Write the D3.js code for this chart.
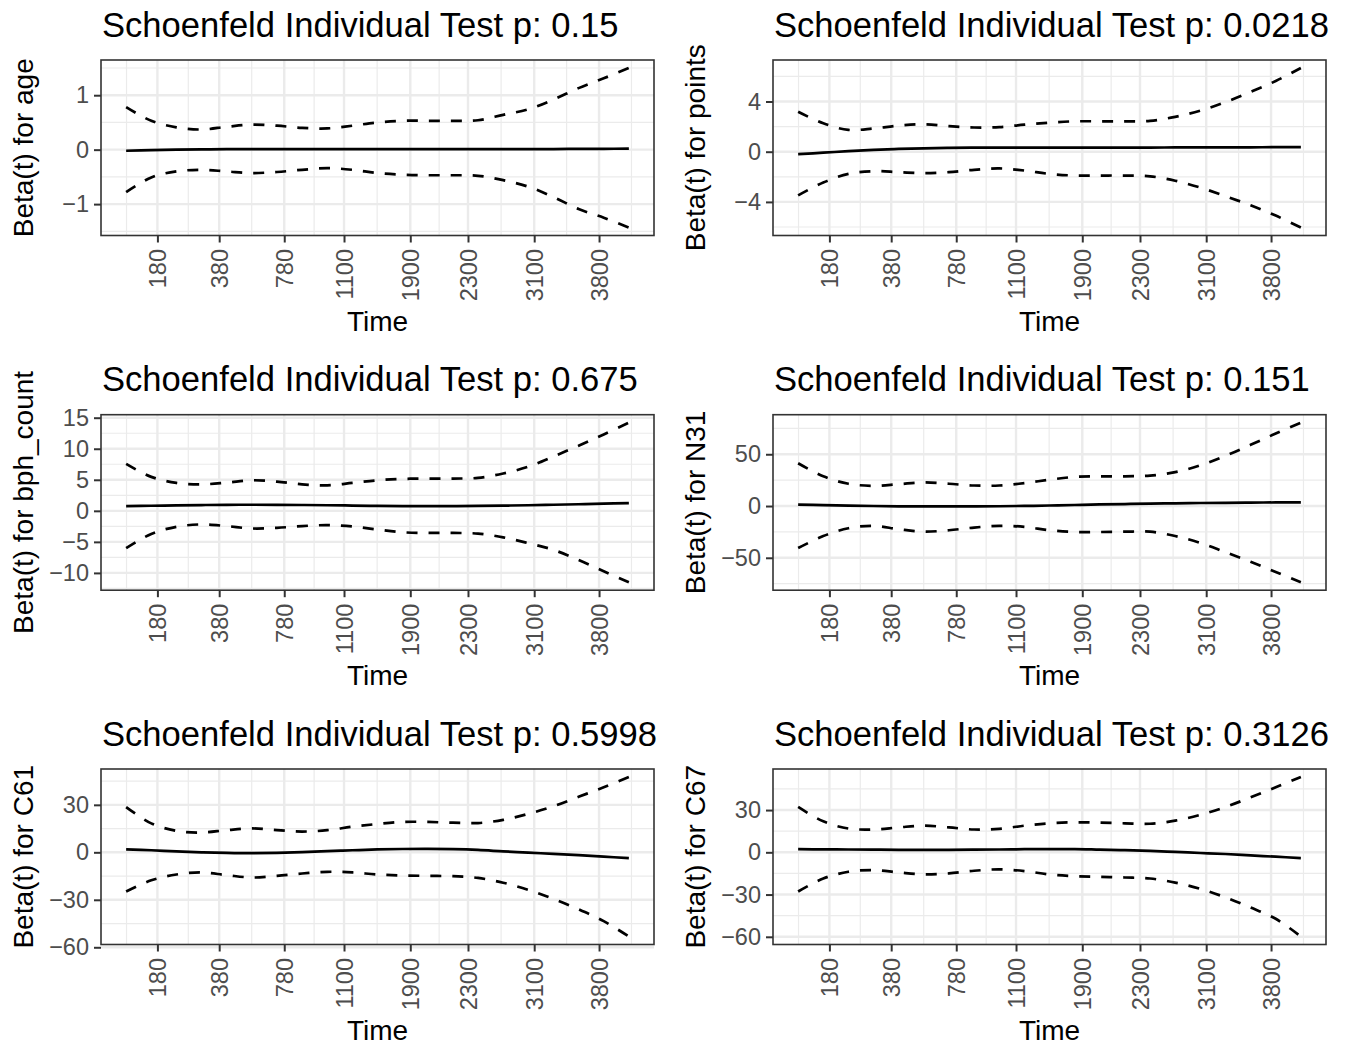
<!DOCTYPE html>
<html>
<head>
<meta charset="utf-8">
<script src="https://cdn.jsdelivr.net/npm/d3@7"></script>
<style>
  body { margin: 0; background: #ffffff; }
  text { font-family: "Liberation Sans", Arial, Helvetica, sans-serif; }
</style>
</head>
<body>
<svg id="chart" width="1349" height="1046"></svg>
<script>
// ---------------- DATA ----------------
// sample positions along the (transformed) time axis, 0 = first event, 1 = last event
const timeSamples = [0, 0.05, 0.1, 0.15, 0.2, 0.25, 0.3, 0.35, 0.4, 0.45, 0.5,
                     0.55, 0.6, 0.65, 0.7, 0.75, 0.8, 0.85, 0.9, 0.95, 1.0];

// x tick labels (time) and their position on the transformed time axis
const timeTickLabels = [180, 380, 780, 1100, 1900, 2300, 3100, 3800];
const timeTickPositions = [0.0622, 0.1851, 0.3145, 0.4334, 0.5652, 0.6800, 0.8117, 0.9407];

const variables = ["age", "points", "bph_count", "N31", "C61", "C67"];
const pValues = ["0.15", "0.0218", "0.675", "0.151", "0.5998", "0.3126"];

const yTicksAge = [-1, 0, 1];
const yTicksPoints = [-4, 0, 4];
const yTicksBph = [-10, -5, 0, 5, 10, 15];
const yTicksN31 = [-50, 0, 50];
const yTicksC61 = [-60, -30, 0, 30];
const yTicksC67 = [-60, -30, 0, 30];

const betaAge  = [-0.02, -0.01, 0, 0.005, 0.01, 0.01, 0.01, 0.01, 0.01, 0.01, 0.01, 0.01, 0.01, 0.01, 0.01, 0.01, 0.01, 0.01, 0.015, 0.015, 0.02];
const upperAge = [0.78, 0.53, 0.41, 0.37, 0.42, 0.46, 0.44, 0.40, 0.39, 0.44, 0.50, 0.53, 0.53, 0.53, 0.54, 0.64, 0.74, 0.92, 1.13, 1.31, 1.50];
const lowerAge = [-0.78, -0.51, -0.40, -0.37, -0.40, -0.43, -0.41, -0.37, -0.34, -0.37, -0.43, -0.46, -0.47, -0.47, -0.48, -0.56, -0.68, -0.87, -1.09, -1.25, -1.43];

const betaPoints  = [-0.19, -0.08, 0.05, 0.15, 0.22, 0.27, 0.30, 0.32, 0.33, 0.33, 0.33, 0.33, 0.33, 0.33, 0.33, 0.34, 0.34, 0.35, 0.35, 0.36, 0.37];
const upperPoints = [3.18, 2.26, 1.74, 1.85, 2.08, 2.18, 2.04, 1.93, 1.96, 2.15, 2.31, 2.42, 2.42, 2.42, 2.45, 2.78, 3.27, 3.95, 4.76, 5.63, 6.67];
const lowerPoints = [-3.48, -2.45, -1.77, -1.55, -1.63, -1.71, -1.63, -1.44, -1.33, -1.50, -1.77, -1.90, -1.90, -1.90, -1.96, -2.31, -2.86, -3.54, -4.27, -5.09, -6.04];

const betaBph  = [0.77, 0.82, 0.88, 0.93, 0.97, 0.98, 0.97, 0.94, 0.90, 0.85, 0.80, 0.77, 0.76, 0.77, 0.80, 0.84, 0.90, 0.98, 1.06, 1.15, 1.25];
const upperBph = [7.55, 5.47, 4.49, 4.27, 4.54, 4.92, 4.70, 4.27, 4.10, 4.49, 4.92, 5.14, 5.20, 5.20, 5.31, 6.02, 7.11, 8.75, 10.5, 12.3, 14.2];
const lowerBph = [-6.02, -3.72, -2.57, -2.19, -2.46, -2.84, -2.74, -2.46, -2.30, -2.52, -3.01, -3.45, -3.56, -3.56, -3.67, -4.27, -5.20, -6.29, -7.93, -9.74, -11.5];

const betaN31  = [1.3, 0.9, 0.4, 0.0, -0.3, -0.4, -0.4, -0.35, -0.2, 0.1, 0.5, 1.0, 1.5, 1.9, 2.3, 2.6, 2.9, 3.1, 3.3, 3.45, 3.6];
const upperN31 = [41.3, 28.7, 21.5, 19.5, 21.1, 22.8, 21.5, 19.8, 19.8, 22.1, 25.4, 28.1, 28.7, 28.7, 29.4, 32.7, 39.3, 48.5, 59.1, 70.0, 80.5];
const lowerN31 = [-40.6, -29.0, -21.5, -19.1, -22.4, -24.8, -23.4, -20.8, -19.1, -20.1, -23.4, -25.1, -25.1, -24.8, -24.8, -29.0, -35.6, -44.6, -53.8, -63.7, -73.6];

const betaC61  = [1.9, 1.3, 0.6, 0.0, -0.4, -0.5, -0.3, 0.1, 0.7, 1.3, 1.8, 2.1, 2.2, 2.0, 1.5, 0.6, -0.2, -1.0, -1.8, -2.7, -3.7];
const upperC61 = [28.6, 18.3, 13.6, 12.5, 14.0, 15.1, 14.0, 13.1, 14.0, 16.2, 17.9, 19.2, 19.2, 18.7, 18.5, 20.5, 24.3, 29.1, 35.1, 41.1, 47.6];
const lowerC61 = [-24.8, -17.7, -14.0, -12.7, -14.4, -15.9, -14.9, -13.4, -12.3, -12.7, -14.0, -14.6, -14.9, -15.1, -16.2, -19.2, -23.7, -29.5, -36.0, -43.5, -53.2];

const betaC67  = [2.2, 2.1, 2.0, 1.9, 1.8, 1.8, 1.8, 1.9, 2.0, 2.2, 2.3, 2.3, 1.9, 1.5, 1.0, 0.3, -0.5, -1.2, -2.2, -3.1, -4.1];
const upperC67 = [32.2, 22.0, 16.9, 16.2, 17.7, 18.9, 17.7, 16.2, 16.7, 18.9, 20.6, 21.3, 21.1, 20.6, 20.3, 22.5, 26.6, 32.2, 39.0, 46.2, 53.5];
const lowerC67 = [-27.8, -18.6, -13.8, -12.6, -14.3, -15.7, -15.0, -13.1, -12.1, -13.3, -15.7, -16.9, -17.4, -17.9, -18.6, -21.5, -25.9, -32.0, -39.2, -47.2, -59.8];

const panelsData = [
  { beta: betaAge,    upper: upperAge,    lower: lowerAge,    yTicks: yTicksAge },
  { beta: betaPoints, upper: upperPoints, lower: lowerPoints, yTicks: yTicksPoints },
  { beta: betaBph,    upper: upperBph,    lower: lowerBph,    yTicks: yTicksBph },
  { beta: betaN31,    upper: upperN31,    lower: lowerN31,    yTicks: yTicksN31 },
  { beta: betaC61,    upper: upperC61,    lower: lowerC61,    yTicks: yTicksC61 },
  { beta: betaC67,    upper: upperC67,    lower: lowerC67,    yTicks: yTicksC67 }
];

// ---------------- LAYOUT ----------------
const colLayout = [
  { left: 101, right: 654, ylabX: 33 },
  { left: 773, right: 1326, ylabX: 705 }
];
const rowTops = [60, 414.7, 769];
const panelH = 175.5;

const FONT = '"Liberation Sans", Arial, Helvetica, sans-serif';
const svg = d3.select("#chart");

function minorBreaks(b) {
  const out = [];
  out.push(b[0] - (b[1] - b[0]) / 2);
  for (let i = 0; i < b.length - 1; i++) out.push((b[i] + b[i + 1]) / 2);
  const n = b.length;
  out.push(b[n - 1] + (b[n - 1] - b[n - 2]) / 2);
  return out;
}

panelsData.forEach((pd, i) => {
  const col = colLayout[i % 2];
  const top = rowTops[Math.floor(i / 2)];
  const bottom = top + panelH;
  const left = col.left, right = col.right;

  const x = d3.scaleLinear().domain([-0.05, 1.05]).range([left, right]);
  const all = pd.upper.concat(pd.lower, pd.beta);
  const lo = d3.min(all), hi = d3.max(all);
  const pad = (hi - lo) * 0.05;
  const y = d3.scaleLinear().domain([lo - pad, hi + pad]).range([bottom, top]);

  const g = svg.append("g");

  g.append("rect").attr("x", left).attr("y", top).attr("width", right - left).attr("height", panelH)
    .attr("fill", "#ffffff");

  // minor grid
  const [y0, y1] = y.domain();
  minorBreaks(pd.yTicks).filter(v => v >= y0 && v <= y1).forEach(v => {
    g.append("line").attr("x1", left).attr("x2", right).attr("y1", y(v)).attr("y2", y(v))
      .attr("stroke", "#EBEBEB").attr("stroke-width", 1.2);
  });
  minorBreaks(timeTickPositions).filter(v => v >= -0.05 && v <= 1.05).forEach(v => {
    g.append("line").attr("y1", top).attr("y2", bottom).attr("x1", x(v)).attr("x2", x(v))
      .attr("stroke", "#EBEBEB").attr("stroke-width", 1.2);
  });
  // major grid
  pd.yTicks.forEach(v => {
    g.append("line").attr("x1", left).attr("x2", right).attr("y1", y(v)).attr("y2", y(v))
      .attr("stroke", "#EBEBEB").attr("stroke-width", 2.4);
  });
  timeTickPositions.forEach(v => {
    g.append("line").attr("y1", top).attr("y2", bottom).attr("x1", x(v)).attr("x2", x(v))
      .attr("stroke", "#EBEBEB").attr("stroke-width", 2.4);
  });

  // curves
  const line = d3.line()
    .x((d, k) => x(timeSamples[k]))
    .y(d => y(d))
    .curve(d3.curveCatmullRom.alpha(0.5));

  g.append("path").attr("d", line(pd.upper)).attr("fill", "none")
    .attr("stroke", "#000").attr("stroke-width", 2.7).attr("stroke-dasharray", "11,11");
  g.append("path").attr("d", line(pd.lower)).attr("fill", "none")
    .attr("stroke", "#000").attr("stroke-width", 2.7).attr("stroke-dasharray", "11,11");
  g.append("path").attr("d", line(pd.beta)).attr("fill", "none")
    .attr("stroke", "#000").attr("stroke-width", 2.7);

  // border
  g.append("rect").attr("x", left).attr("y", top).attr("width", right - left).attr("height", panelH)
    .attr("fill", "none").attr("stroke", "#333333").attr("stroke-width", 1.6);

  // y axis
  const gy = g.append("g").attr("transform", `translate(${left},0)`)
    .call(d3.axisLeft(y).tickValues(pd.yTicks).tickSize(7).tickPadding(5).tickFormat(d3.format("d")));
  gy.select(".domain").remove();
  gy.selectAll("line").attr("stroke", "#333333").attr("stroke-width", 2);
  gy.selectAll("text").attr("fill", "#4D4D4D").style("font-size", "23.5px").style("font-family", FONT);

  // x axis
  const gx = g.append("g").attr("transform", `translate(0,${bottom})`)
    .call(d3.axisBottom(x).tickValues(timeTickPositions).tickSize(7).tickSizeOuter(0)
      .tickFormat(d => String(timeTickLabels[timeTickPositions.indexOf(d)])));
  gx.select(".domain").remove();
  gx.selectAll("line").attr("stroke", "#333333").attr("stroke-width", 2);
  gx.selectAll("text")
    .attr("transform", "rotate(-90)")
    .attr("text-anchor", "end")
    .attr("x", -13.5).attr("y", 0).attr("dy", "0.35em")
    .attr("fill", "#4D4D4D").style("font-size", "23.5px").style("font-family", FONT);

  // title
  g.append("text").attr("x", left + 1).attr("y", top - 23.3)
    .attr("fill", "#000").style("font-size", "34.6px").style("font-family", FONT)
    .text("Schoenfeld Individual Test p: " + pValues[i]);

  // axis titles
  g.append("text").attr("x", (left + right) / 2).attr("y", bottom + 95)
    .attr("text-anchor", "middle").attr("fill", "#000").style("font-size", "28px").style("font-family", FONT)
    .text("Time");
  g.append("text")
    .attr("transform", `translate(${col.ylabX},${(top + bottom) / 2}) rotate(-90)`)
    .attr("text-anchor", "middle").attr("fill", "#000").style("font-size", "28px").style("font-family", FONT)
    .text("Beta(t) for " + variables[i]);
});
</script>
</body>
</html>
